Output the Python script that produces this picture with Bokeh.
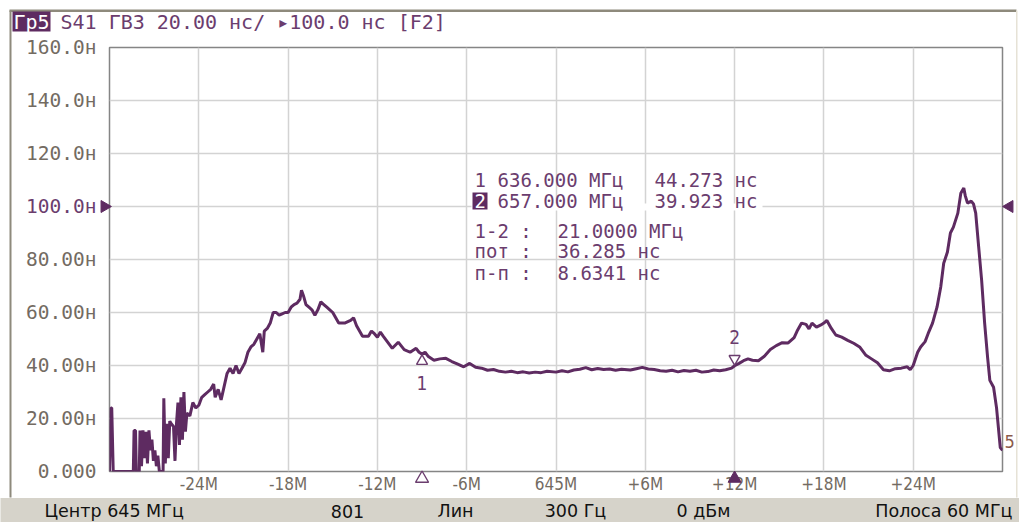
import math
from bokeh.plotting import figure
from bokeh.models import Range1d, FixedTicker
from bokeh.core.properties import value
from bokeh.embed import file_html
from bokeh.resources import INLINE

# ---------------- data ----------------
CENTER_MHZ = 645
SPAN_MHZ = 60

freq_offset_mhz = [
    -30.0, -29.9, -29.85, -29.75, -29.7, -28.4, -28.35, -28.25, -28.2, -28.0,
    -27.95, -27.85, -27.75, -27.65, -27.55, -27.45, -27.35, -27.25, -27.15, -27.05,
    -26.95, -26.85, -26.75, -26.65, -26.4, -26.35, -26.25, -26.15, -26.05, -25.95,
    -25.85, -25.7, -25.6, -25.5, -25.4, -25.3, -25.2, -25.1, -25.0, -24.9,
    -24.8, -24.6, -24.4, -24.2, -24.0, -23.8, -23.6, -23.4, -23.2, -23.0,
    -22.9, -22.7, -22.5, -22.3, -22.1, -21.9, -21.7, -21.5, -21.3, -21.1,
    -20.9, -20.7, -20.5, -20.3, -20.1, -19.9, -19.7, -19.6, -19.4, -19.2,
    -19.0, -18.8, -18.6, -18.4, -18.2, -18.0, -17.8, -17.6, -17.4, -17.2,
    -17.1, -16.95, -16.8, -16.6, -16.4, -16.2, -16.0, -15.8, -15.6, -15.4,
    -15.2, -15.0, -14.8, -14.6, -14.2, -13.8, -13.6, -13.4, -13.2, -13.0,
    -12.6, -12.4, -12.2, -12.0, -11.8, -11.6, -11.4, -11.2, -11.0, -10.6,
    -10.2, -9.8, -9.4, -9.2, -9.0, -8.8, -8.6, -8.2, -7.8, -7.4,
    -7.0, -6.6, -6.2, -5.8, -5.4, -5.0, -4.6, -4.2, -3.8, -3.4,
    -3.0, -2.6, -2.2, -1.8, -1.4, -1.0, -0.6, 0.0, 0.4, 0.8,
    1.2, 1.6, 2.0, 2.4, 2.8, 3.2, 3.6, 4.0, 4.4, 5.0,
    5.4, 5.8, 6.2, 6.6, 7.0, 7.4, 7.8, 8.2, 8.6, 9.0,
    9.4, 9.8, 10.2, 10.6, 11.0, 11.4, 11.8, 12.0, 12.3, 12.6,
    12.9, 13.2, 13.6, 14.0, 14.4, 14.8, 15.2, 15.6, 16.0, 16.2,
    16.5, 16.8, 17.0, 17.2, 17.5, 17.8, 18.0, 18.2, 18.5, 18.8,
    19.2, 19.6, 20.0, 20.4, 20.8, 21.2, 21.6, 22.0, 22.4, 22.8,
    23.2, 23.6, 23.8, 24.0, 24.3, 24.5, 24.8, 25.0, 25.3, 25.6,
    25.85, 26.05, 26.3, 26.5, 26.7, 27.0, 27.2, 27.4, 27.5, 27.65,
    27.9, 28.05, 28.2, 28.4, 28.6, 28.8, 29.0, 29.15, 29.4, 29.6,
    29.85, 30.0,
]

group_delay_ns = [
    0, 24, 24, 0, 0, 0, 15.5, 15.5, 0, 0,
    15.5, 2, 15.5, 5, 15, 3, 15.5, 8, 12, 4,
    8, 2, 6, 0, 0, 27.6, 3, 18, 5, 19,
    18, 17, 4, 18, 26, 10, 28, 12, 30, 15,
    22, 21, 26, 24, 25, 28, 29, 30, 31, 33,
    28, 31, 27, 32, 37, 39, 37, 40, 37, 39,
    41, 45, 47, 48, 50, 52, 45, 53, 54, 56,
    60, 60, 59, 59.5, 60, 60, 62, 63, 63.5, 65,
    68.4, 66, 63, 62, 61, 59, 61, 64, 63, 62,
    61, 60, 58, 56, 56, 57, 58, 55, 53, 51,
    51, 53, 52, 50.7, 52.6, 51, 49.5, 48, 46.5, 48.8,
    46, 45, 46.5, 45, 44.3, 45, 43.5, 42, 42.5, 42.7,
    41.5, 40.5, 39.5, 40.8, 39.3, 39, 38.2, 38.5, 37.8, 37.5,
    37.8, 37.3, 37.6, 37.2, 37.5, 37.3, 37.8, 37.5, 38.0, 37.6,
    38.3, 38.6, 39.2, 38.4, 38.9, 38.5, 38.7, 38.2, 38.6, 38.3,
    38.8, 39.3, 38.7, 38.5, 38.0, 37.8, 38.2, 37.6, 38.1, 37.8,
    38.2, 37.5, 37.7, 38.3, 38.0, 38.4, 39.0, 39.9, 40.8, 41.8,
    42.5, 42.0, 41.8, 43.5, 46, 47.5, 48.6, 48.5, 50.5, 53,
    56, 55.5, 53.8, 56, 54.5, 55.3, 56, 57, 54, 51.5,
    50.7, 49.5, 48.4, 47, 44, 42.5, 41, 38.4, 38.0, 38.8,
    39.0, 39.5, 38.4, 40, 45, 47, 49, 52, 56, 62,
    69.6, 78.6, 82.8, 90, 92.2, 97.5, 105, 107, 104, 101.3,
    102, 101, 97.5, 84.7, 72, 56, 43, 34.4, 31.8, 24,
    9, 8,
]
assert len(freq_offset_mhz) == len(group_delay_ns)

x_tick_offsets = [-24, -18, -12, -6, 0, 6, 12, 18, 24]
x_tick_labels = ["-24M", "-18M", "-12M", "-6M", "645M", "+6M", "+12M", "+18M", "+24M"]
y_ticks = [0, 20, 40, 60, 80, 100, 120, 140, 160]
y_tick_labels = ["0.000", "20.00н", "40.00н", "60.00н", "80.00н", "100.0н", "120.0н", "140.0н", "160.0н"]
ref_level_ns = 100

marker_ids = ["1", "2"]
marker_freq_mhz = [636.0, 657.0]
marker_delay_ns = [44.273, 39.923]
marker_freq_text = ["636.000 МГц", "657.000 МГц"]
marker_delay_text = ["44.273 нс", "39.923 нс"]
stats_keys = ["1-2 :", "пот :", "п-п :"]
stats_values = ["21.0000 МГц", "36.285 нс", "8.6341 нс"]

header_tag = "Гр5"
header_text = "S41 ГВЗ 20.00 нс/ ▸100.0 нс [F2]"
status_items = ["Центр 645 МГц", "801", "Лин", "300 Гц", "0 дБм", "Полоса 60 МГц"]
trace_id = "5"

# ---------------- layout / style ----------------
W, H = 1019, 522
FL, FR, FT, FB = 109, 1002, 47, 471     # plot frame in page pixels
PURPLE = "#5e2b61"
TEXT_PURPLE = "#6b3d6e"
AXIS_GRAY = "#736b62"
MONO = "DejaVu Sans Mono"
COND = "DejaVu Sans Condensed"
SANS = "DejaVu Sans"
YLAB_SIZE = "19.5px"

x0, x1 = CENTER_MHZ - SPAN_MHZ / 2, CENTER_MHZ + SPAN_MHZ / 2
y0, y1 = y_ticks[0], y_ticks[-1]


def X(px):  # page pixel -> data x (for decorations outside the data area)
    return x0 + (px - FL) * (x1 - x0) / (FR - FL)


def Y(py):
    return y0 + (FB - py) * (y1 - y0) / (FB - FT)


PX_Y = (y1 - y0) / (FB - FT)   # data units per pixel (y)

freqs = [CENTER_MHZ + o for o in freq_offset_mhz]

p = figure(width=W, height=H,
           x_range=Range1d(x0, x1), y_range=Range1d(y0, y1),
           output_backend="svg", toolbar_location=None,
           min_border_left=FL, min_border_right=W - FR,
           min_border_top=FT, min_border_bottom=H - FB)
p.background_fill_color = "white"
p.border_fill_color = "white"
p.outline_line_color = "#858585"
p.outline_line_width = 1.5

xt = [CENTER_MHZ + o for o in x_tick_offsets]
p.xaxis.ticker = FixedTicker(ticks=xt)
p.xaxis.major_label_overrides = {t: lab for t, lab in zip(xt, x_tick_labels)}
p.yaxis.ticker = FixedTicker(ticks=y_ticks)
ylabs = {t: lab for t, lab in zip(y_ticks, y_tick_labels)}
ylabs[ref_level_ns] = ""
p.yaxis.major_label_overrides = ylabs

for ax in (p.xaxis[0], p.yaxis[0]):
    ax.axis_line_color = None
    ax.major_tick_line_color = None
    ax.minor_tick_line_color = None
    ax.major_tick_out = 0
    ax.major_tick_in = 0
    ax.minor_tick_out = 0
    ax.major_label_text_color = AXIS_GRAY
p.yaxis.major_label_text_font = MONO
p.yaxis.major_label_text_font_size = YLAB_SIZE
p.yaxis.major_label_standoff = 13
p.xaxis.major_label_text_font = COND
p.xaxis.major_label_text_font_size = "17px"
p.xaxis.major_label_standoff = 2

p.xgrid.ticker = FixedTicker(ticks=xt)
p.ygrid.ticker = FixedTicker(ticks=y_ticks)
for g in (p.xgrid[0], p.ygrid[0]):
    g.grid_line_color = "#d3d3d3"
    g.grid_line_width = 1.5

OV = dict(level="overlay")


def txt(x, y, s, color=TEXT_PURPLE, font=MONO, size="19px", align="left",
        baseline="middle", **kw):
    p.text(x=[x], y=[y], text=[s], text_color=color, text_font=value(font),
           text_font_size=size, text_align=align, text_baseline=baseline, **OV, **kw)


# white backing that hides the grid line behind the second readout row
p.quad(left=[X(471)], right=[X(762)], top=[Y(203)], bottom=[Y(210)],
       fill_color="white", line_color=None)

# trace
p.line(freqs, group_delay_ns, line_color=PURPLE, line_width=3)

# markers on the trace
p.scatter(x=[marker_freq_mhz[0]], y=[marker_delay_ns[0] - 7 * PX_Y], marker="triangle",
          size=11, fill_color="white", line_color=TEXT_PURPLE, line_width=1.4, **OV)
txt(marker_freq_mhz[0], marker_delay_ns[0], marker_ids[0], font=COND, size="19px",
    align="center", y_offset=29)
p.scatter(x=[marker_freq_mhz[1]], y=[marker_delay_ns[1] + 7 * PX_Y], marker="inverted_triangle",
          size=11, fill_color="white", line_color=TEXT_PURPLE, line_width=1.4, **OV)
txt(marker_freq_mhz[1], marker_delay_ns[1], marker_ids[1], font=COND, size="19px",
    align="center", y_offset=-29)

# marker positions under the x axis
p.scatter(x=[marker_freq_mhz[0]], y=[Y(478)], marker="triangle", size=13,
          fill_color="white", line_color=TEXT_PURPLE, line_width=1.4, **OV)
p.scatter(x=[marker_freq_mhz[1]], y=[Y(478)], marker="triangle", size=13,
          fill_color=PURPLE, line_color=PURPLE, **OV)

# reference level arrows and label
p.scatter(x=[X(104)], y=[ref_level_ns], marker="triangle", angle=-math.pi / 2, size=12,
          fill_color=PURPLE, line_color=PURPLE, **OV)
p.scatter(x=[X(1009)], y=[ref_level_ns], marker="triangle", angle=math.pi / 2, size=12,
          fill_color=PURPLE, line_color=PURPLE, **OV)
txt(X(FL - 13), ref_level_ns, y_tick_labels[y_ticks.index(ref_level_ns)], align="right",
    size=YLAB_SIZE)

# trace number at the right end
txt(X(1004), group_delay_ns[-1], trace_id, color="#8a5a4a", font=COND, size="18px",
    y_offset=-9)

# window frame lines
p.quad(left=[X(9)], right=[X(1016)], top=[Y(9)], bottom=[Y(11.5)],
       fill_color="#8e8a7c", line_color=None, **OV)
p.quad(left=[X(9)], right=[X(11)], top=[Y(10)], bottom=[Y(497)],
       fill_color="#8e8a7c", line_color=None, **OV)
p.quad(left=[X(1015.5)], right=[X(1017)], top=[Y(10)], bottom=[Y(497)],
       fill_color="#e6e2d6", line_color=None, **OV)

# status bar
p.quad(left=[X(0)], right=[X(W)], top=[Y(497.5)], bottom=[Y(H)],
       fill_color="#d6d3ca", line_color=None, **OV)
status_px = [44, 347, 455, 575, 703, 1012]
status_align = ["left", "center", "center", "center", "center", "right"]
for sx, al, s in zip(status_px, status_align, status_items):
    txt(X(sx), Y(510.5), s, color="#111111", font=SANS, size="17.5px", align=al)

# header
p.quad(left=[X(12)], right=[X(50)], top=[Y(11)], bottom=[Y(31)],
       fill_color=PURPLE, line_color=None, **OV)
txt(X(13), Y(21), header_tag, color="white", size="20px")
txt(X(60), Y(21), header_text, size="20px")

# marker readout
row_py = [179.5, 200.5]
for mid, ftxt, dtxt, py in zip(marker_ids, marker_freq_text, marker_delay_text, row_py):
    if mid == "2":
        p.quad(left=[X(472)], right=[X(487)], top=[Y(py - 8.5)], bottom=[Y(py + 8.5)],
               fill_color=PURPLE, line_color=None, **OV)
        txt(X(474), Y(py), mid, color="white")
    else:
        txt(X(474), Y(py), mid)
    txt(X(497), Y(py), ftxt)
    txt(X(654), Y(py), dtxt)
stat_py = [230, 250, 272]
for k, v, py in zip(stats_keys, stats_values, stat_py):
    txt(X(474), Y(py), k)
    txt(X(557), Y(py), v)

open("out.html", "w").write(file_html(p, INLINE))
